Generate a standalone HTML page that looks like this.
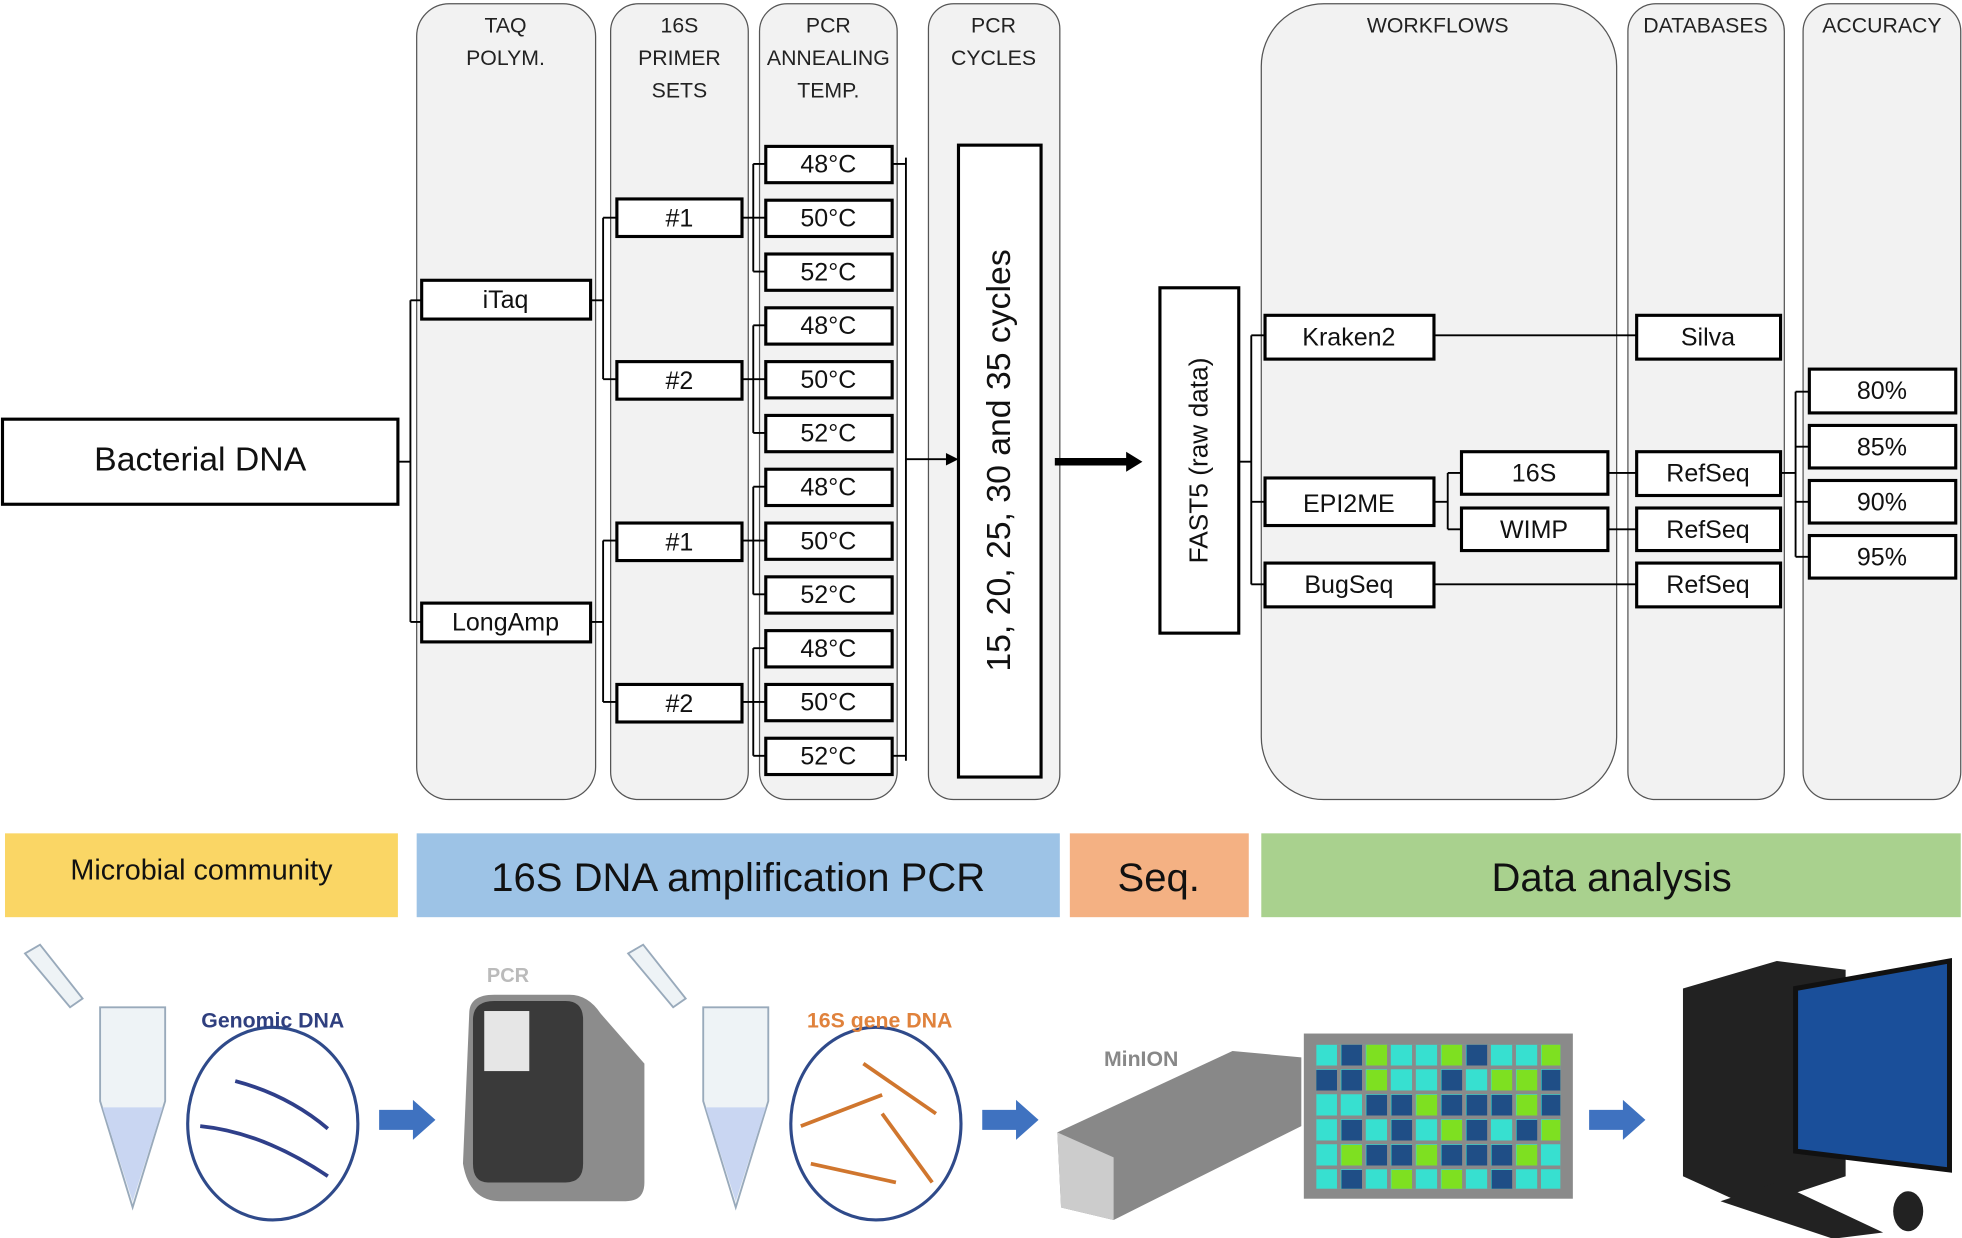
<!DOCTYPE html>
<html><head><meta charset="utf-8"><style>html,body{margin:0;padding:0;background:#fff}svg{display:block}</style></head><body>
<svg width="1962" height="1238" viewBox="0 0 1568 989.4" preserveAspectRatio="none" xmlns="http://www.w3.org/2000/svg" font-family="Liberation Sans, sans-serif">
<g fill="#f2f2f2" stroke="#555" stroke-width="1">
<rect x="333" y="3" width="143" height="636" rx="26"/>
<rect x="488" y="3" width="110" height="636" rx="22"/>
<rect x="607" y="3" width="110" height="636" rx="22"/>
<rect x="742" y="3" width="105" height="636" rx="20"/>
<rect x="1008" y="3" width="284" height="636" rx="50"/>
<rect x="1301" y="3" width="125" height="636" rx="22"/>
<rect x="1441" y="3" width="126" height="636" rx="22"/>
</g>
<g font-size="17" fill="#222" text-anchor="middle">
<text x="404" y="26">TAQ</text><text x="404" y="52">POLYM.</text>
<text x="543" y="26">16S</text><text x="543" y="52">PRIMER</text><text x="543" y="78">SETS</text>
<text x="662" y="26">PCR</text><text x="662" y="52">ANNEALING</text><text x="662" y="78">TEMP.</text>
<text x="794" y="26">PCR</text><text x="794" y="52">CYCLES</text>
<text x="1149" y="26">WORKFLOWS</text><text x="1363" y="26">DATABASES</text><text x="1504" y="26">ACCURACY</text>
</g>
<g fill="none" stroke="#000" stroke-width="1.5">
<path d="M318 369H328M328 240V497M328 240H337M328 497H337"/>
<path d="M472 240H482M482 174V303M482 174H493M482 303H493"/>
<path d="M472 497H482M482 432V561M482 432H493M482 561H493"/>
<path d="M593 174H602M602 131V217M602 131H612M602 174H612M602 217H612"/>
<path d="M593 303H602M602 260V346M602 260H612M602 303H612M602 346H612"/>
<path d="M593 432H602M602 389V475M602 389H612M602 432H612M602 475H612"/>
<path d="M593 561H602M602 518V604M602 518H612M602 561H612M602 604H612"/>
<path d="M713 131H724M713 604H724M724 126V608"/>
<path d="M724 367H756"/>
<path d="M990 369H1000M1000 268V467M1000 268H1011M1000 401H1011M1000 467H1011"/>
<path d="M1146 401H1157M1157 378V423M1157 378H1168M1157 423H1168"/>
<path d="M1146 268H1308M1285 378H1308M1285 423H1308M1146 467H1308"/>
<path d="M1423 378H1435M1435 313V445M1435 313H1446M1435 357H1446M1435 401H1446M1435 445H1446"/>
</g>
<path d="M756 362L766 367L756 372Z" fill="#000"/>
<path d="M843 366H900V361L913 369L900 377V372H843Z" fill="#000"/>
<g fill="#fff" stroke="#000" stroke-width="2.5">
<rect x="2" y="335" width="316" height="68"/>
<rect x="337" y="224" width="135" height="31"/><rect x="337" y="482" width="135" height="31"/>
<rect x="493" y="159" width="100" height="30"/><rect x="493" y="289" width="100" height="30"/>
<rect x="493" y="418" width="100" height="30"/><rect x="493" y="547" width="100" height="30"/>
<rect x="612" y="117" width="101" height="29"/><rect x="612" y="160" width="101" height="29"/><rect x="612" y="203" width="101" height="29"/>
<rect x="612" y="246" width="101" height="29"/><rect x="612" y="289" width="101" height="29"/><rect x="612" y="332" width="101" height="29"/>
<rect x="612" y="375" width="101" height="29"/><rect x="612" y="418" width="101" height="29"/><rect x="612" y="461" width="101" height="29"/>
<rect x="612" y="504" width="101" height="29"/><rect x="612" y="547" width="101" height="29"/><rect x="612" y="590" width="101" height="29"/>
<rect x="766" y="116" width="66" height="505"/>
<rect x="927" y="230" width="63" height="276"/>
<rect x="1011" y="252" width="135" height="35"/><rect x="1011" y="382" width="135" height="38"/><rect x="1011" y="450" width="135" height="35"/>
<rect x="1168" y="361" width="117" height="34"/><rect x="1168" y="406" width="117" height="34"/>
<rect x="1308" y="252" width="115" height="35"/><rect x="1308" y="361" width="115" height="35"/><rect x="1308" y="406" width="115" height="34"/><rect x="1308" y="450" width="115" height="35"/>
<rect x="1446" y="295" width="117" height="35"/><rect x="1446" y="340" width="117" height="34"/><rect x="1446" y="384" width="117" height="34"/><rect x="1446" y="428" width="117" height="34"/>
</g>
<g font-size="20" fill="#111" text-anchor="middle">
<text x="160" y="376" font-size="27">Bacterial DNA</text>
<text x="404" y="246">iTaq</text><text x="404" y="504">LongAmp</text>
<text x="543" y="181">#1</text><text x="543" y="311">#2</text><text x="543" y="440">#1</text><text x="543" y="569">#2</text>
<text x="662" y="138">48°C</text><text x="662" y="181">50°C</text><text x="662" y="224">52°C</text>
<text x="662" y="267">48°C</text><text x="662" y="310">50°C</text><text x="662" y="353">52°C</text>
<text x="662" y="396">48°C</text><text x="662" y="439">50°C</text><text x="662" y="482">52°C</text>
<text x="662" y="525">48°C</text><text x="662" y="568">50°C</text><text x="662" y="611">52°C</text>
<text transform="translate(807 368) rotate(-90)" font-size="27">15, 20, 25, 30 and 35 cycles</text>
<text transform="translate(965 368) rotate(-90)" font-size="21">FAST5 (raw data)</text>
<text x="1078" y="276">Kraken2</text><text x="1078" y="409">EPI2ME</text><text x="1078" y="474">BugSeq</text>
<text x="1226" y="385">16S</text><text x="1226" y="430">WIMP</text>
<text x="1365" y="276">Silva</text><text x="1365" y="385">RefSeq</text><text x="1365" y="430">RefSeq</text><text x="1365" y="474">RefSeq</text>
<text x="1504" y="319">80%</text><text x="1504" y="364">85%</text><text x="1504" y="408">90%</text><text x="1504" y="452">95%</text>
</g>
<rect x="4" y="666" width="314" height="67" fill="#fad665"/>
<rect x="333" y="666" width="514" height="67" fill="#9dc3e6"/>
<rect x="855" y="666" width="143" height="67" fill="#f4b183"/>
<rect x="1008" y="666" width="559" height="67" fill="#a9d18e"/>
<g fill="#111" text-anchor="middle">
<text x="161" y="703" font-size="23">Microbial community</text>
<text x="590" y="712" font-size="32">16S DNA amplification PCR</text>
<text x="926" y="712" font-size="32">Seq.</text>
<text x="1288" y="712" font-size="32">Data analysis</text>
</g>
<g stroke="#9ab" fill="#eef3f6" stroke-width="1.5">
<path d="M80 805H132V880L106 965L80 880Z"/><path d="M562 805H614V880L588 965L562 880Z"/>
<path d="M20 762L32 755L66 798L56 805Z"/><path d="M502 762L514 755L548 798L538 805Z"/>
</g>
<path d="M82 885H130L106 960Z" fill="#c9d6f2"/><path d="M564 885H612L588 960Z" fill="#c9d6f2"/>
<ellipse cx="218" cy="898" rx="68" ry="77" fill="#fff" stroke="#2f4a8a" stroke-width="2.5"/>
<ellipse cx="700" cy="898" rx="68" ry="77" fill="#fff" stroke="#2f4a8a" stroke-width="2.5"/>
<g stroke="#2f3f8a" stroke-width="3" fill="none"><path d="M188 864Q230 875 262 902"/><path d="M160 900Q210 905 262 940"/></g>
<g stroke="#d0762e" stroke-width="3" fill="none"><path d="M640 900L705 875"/><path d="M690 850L748 890"/><path d="M705 890L745 945"/><path d="M648 930L716 945"/></g>
<text x="218" y="821" font-size="17" font-weight="bold" fill="#2f3f7f" text-anchor="middle">Genomic DNA</text>
<text x="703" y="821" font-size="17" font-weight="bold" fill="#e0823c" text-anchor="middle">16S gene DNA</text>
<text x="406" y="785" font-size="16" font-weight="bold" fill="#bbb" text-anchor="middle">PCR</text>
<text x="912" y="852" font-size="17" font-weight="bold" fill="#888" text-anchor="middle">MinION</text>
<path d="M375 810Q375 795 395 795H455Q470 795 480 810L515 850V945Q515 960 500 960H400Q375 960 370 930Z" fill="#8c8c8c"/>
<path d="M378 815Q378 800 395 800H452Q466 800 466 815V930Q466 945 452 945H390Q378 945 378 930Z" fill="#3a3a3a"/>
<rect x="387" y="808" width="36" height="48" fill="#e6e6e6"/>
<path d="M845 905L985 840L1040 845V900L890 975L848 965Z" fill="#888"/><path d="M845 905L890 925V975L848 965Z" fill="#ccc"/>
<rect x="1042" y="826" width="215" height="132" fill="#8a8a8a"/>
<g fill="#37e0d0">
<rect x="1052" y="835" width="195" height="115"/>
</g>
<g fill="#1f4e86">
<rect x="1072" y="835" width="17" height="17"/><rect x="1172" y="835" width="17" height="17"/>
<rect x="1052" y="855" width="17" height="17"/><rect x="1072" y="855" width="17" height="17"/><rect x="1152" y="855" width="17" height="17"/><rect x="1232" y="855" width="15" height="17"/>
<rect x="1092" y="875" width="17" height="17"/><rect x="1112" y="875" width="17" height="17"/><rect x="1152" y="875" width="17" height="17"/><rect x="1172" y="875" width="17" height="17"/><rect x="1192" y="875" width="17" height="17"/><rect x="1232" y="875" width="15" height="17"/>
<rect x="1072" y="895" width="17" height="17"/><rect x="1112" y="895" width="17" height="17"/><rect x="1172" y="895" width="17" height="17"/><rect x="1212" y="895" width="17" height="17"/>
<rect x="1092" y="915" width="17" height="17"/><rect x="1112" y="915" width="17" height="17"/><rect x="1152" y="915" width="17" height="17"/><rect x="1172" y="915" width="17" height="17"/><rect x="1192" y="915" width="17" height="17"/>
<rect x="1072" y="935" width="17" height="15"/><rect x="1192" y="935" width="17" height="15"/>
</g>
<g fill="#7ee021">
<rect x="1092" y="835" width="17" height="17"/><rect x="1152" y="835" width="17" height="17"/><rect x="1232" y="835" width="15" height="17"/>
<rect x="1092" y="855" width="17" height="17"/><rect x="1192" y="855" width="17" height="17"/><rect x="1212" y="855" width="17" height="17"/>
<rect x="1132" y="875" width="17" height="17"/><rect x="1212" y="875" width="17" height="17"/>
<rect x="1152" y="895" width="17" height="17"/><rect x="1232" y="895" width="15" height="17"/>
<rect x="1072" y="915" width="17" height="17"/><rect x="1132" y="915" width="17" height="17"/><rect x="1212" y="915" width="17" height="17"/>
<rect x="1112" y="935" width="17" height="15"/><rect x="1152" y="935" width="17" height="15"/>
</g>
<g stroke="#8a8a8a" stroke-width="3"><path d="M1070 835V950M1090 835V950M1110 835V950M1130 835V950M1150 835V950M1170 835V950M1190 835V950M1210 835V950M1230 835V950M1052 853H1247M1052 873H1247M1052 893H1247M1052 913H1247M1052 933H1247"/></g>
<g fill="#3f72c0"><path d="M303 887H330V879L348 895L330 911V903H303Z"/><path d="M785 887H812V879L830 895L812 911V903H785Z"/><path d="M1270 887H1297V879L1315 895L1297 911V903H1270Z"/></g>
<path d="M1345 790L1420 768L1475 775V940L1400 965L1345 940Z" fill="#222"/>
<path d="M1435 790L1558 768V935L1435 920Z" fill="#1a4f9a" stroke="#111" stroke-width="4"/>
<path d="M1375 960L1420 945L1505 985L1465 990Z" fill="#222"/>
<ellipse cx="1525" cy="968" rx="12" ry="16" fill="#222"/>
</svg>
</body></html>
